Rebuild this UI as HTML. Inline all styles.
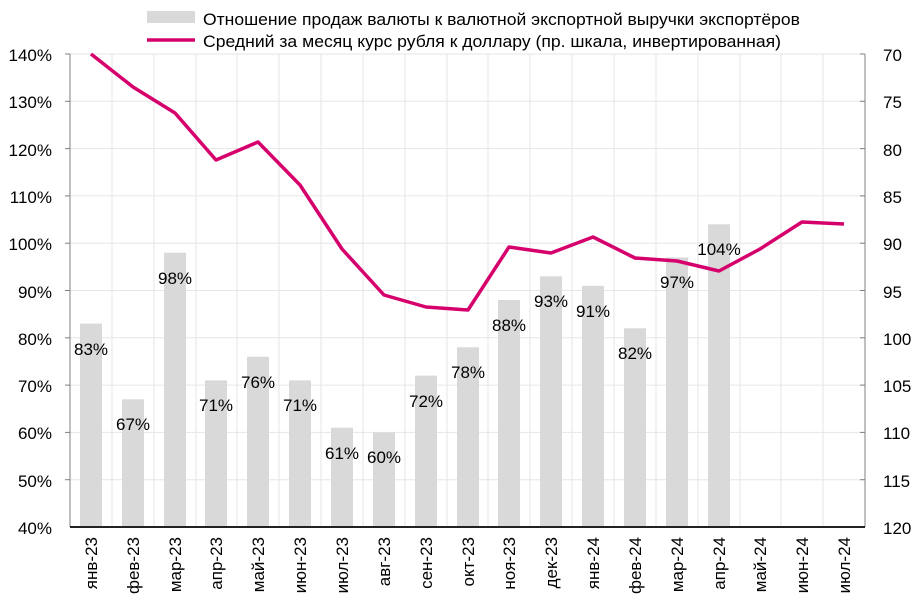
<!DOCTYPE html>
<html><head><meta charset="utf-8"><style>body{margin:0;background:#fff}svg{display:block}text{font-family:"Liberation Sans",sans-serif;fill:#000;font-size:17px}</style></head><body>
<svg width="922" height="609" xmlns="http://www.w3.org/2000/svg">
<g stroke="#e6e6e6">
<line x1="70" x2="865" y1="479.7" y2="479.7"/><line x1="70" x2="865" y1="432.4" y2="432.4"/><line x1="70" x2="865" y1="385.1" y2="385.1"/><line x1="70" x2="865" y1="337.8" y2="337.8"/><line x1="70" x2="865" y1="290.5" y2="290.5"/><line x1="70" x2="865" y1="243.2" y2="243.2"/><line x1="70" x2="865" y1="195.9" y2="195.9"/><line x1="70" x2="865" y1="148.6" y2="148.6"/><line x1="70" x2="865" y1="101.3" y2="101.3"/><line x1="70" x2="865" y1="54" y2="54"/>
<line x1="112" x2="112" y1="54" y2="527"/><line x1="154" x2="154" y1="54" y2="527"/><line x1="196" x2="196" y1="54" y2="527"/><line x1="237" x2="237" y1="54" y2="527"/><line x1="279" x2="279" y1="54" y2="527"/><line x1="321" x2="321" y1="54" y2="527"/><line x1="363" x2="363" y1="54" y2="527"/><line x1="405" x2="405" y1="54" y2="527"/><line x1="447" x2="447" y1="54" y2="527"/><line x1="488" x2="488" y1="54" y2="527"/><line x1="530" x2="530" y1="54" y2="527"/><line x1="572" x2="572" y1="54" y2="527"/><line x1="614" x2="614" y1="54" y2="527"/><line x1="656" x2="656" y1="54" y2="527"/><line x1="698" x2="698" y1="54" y2="527"/><line x1="740" x2="740" y1="54" y2="527"/><line x1="781" x2="781" y1="54" y2="527"/><line x1="823" x2="823" y1="54" y2="527"/>
</g>
<g fill="#d9d9d9">
<rect x="80" y="323.6" width="22" height="203.4"/><rect x="122" y="399.3" width="22" height="127.7"/><rect x="164" y="252.7" width="22" height="274.3"/><rect x="205" y="380.4" width="22" height="146.6"/><rect x="247" y="356.7" width="22" height="170.3"/><rect x="289" y="380.4" width="22" height="146.6"/><rect x="331" y="427.7" width="22" height="99.3"/><rect x="373" y="432.4" width="22" height="94.6"/><rect x="415" y="375.6" width="22" height="151.4"/><rect x="457" y="347.3" width="22" height="179.7"/><rect x="498" y="300" width="22" height="227"/><rect x="540" y="276.3" width="22" height="250.7"/><rect x="582" y="285.8" width="22" height="241.2"/><rect x="624" y="328.3" width="22" height="198.7"/><rect x="666" y="257.4" width="22" height="269.6"/><rect x="708" y="224.3" width="22" height="302.7"/>
</g>
<polyline points="91,54 133,87 175,113 216,160 258,142 300,185 342,249 384,295 426,307 468,310 509,247 551,253 593,237 635,258 677,261 719,271 760,249 802,222 844,224" fill="none" stroke="#d6006d" stroke-width="3.5" stroke-linejoin="round"/>
<g text-anchor="middle">
<text x="91" y="355">83%</text><text x="133" y="430">67%</text><text x="175" y="284">98%</text><text x="216" y="411">71%</text><text x="258" y="388">76%</text><text x="300" y="411">71%</text><text x="342" y="459">61%</text><text x="384" y="463">60%</text><text x="426" y="407">72%</text><text x="468" y="378">78%</text><text x="509" y="331">88%</text><text x="551" y="307">93%</text><text x="593" y="317">91%</text><text x="635" y="359">82%</text><text x="677" y="288">97%</text><text x="719" y="255">104%</text>
</g>
<g text-anchor="end">
<text transform="translate(97,537) rotate(-90)">янв-23</text><text transform="translate(139,537) rotate(-90)">фев-23</text><text transform="translate(181,537) rotate(-90)">мар-23</text><text transform="translate(222,537) rotate(-90)">апр-23</text><text transform="translate(264,537) rotate(-90)">май-23</text><text transform="translate(306,537) rotate(-90)">июн-23</text><text transform="translate(348,537) rotate(-90)">июл-23</text><text transform="translate(390,537) rotate(-90)">авг-23</text><text transform="translate(432,537) rotate(-90)">сен-23</text><text transform="translate(474,537) rotate(-90)">окт-23</text><text transform="translate(515,537) rotate(-90)">ноя-23</text><text transform="translate(557,537) rotate(-90)">дек-23</text><text transform="translate(599,537) rotate(-90)">янв-24</text><text transform="translate(641,537) rotate(-90)">фев-24</text><text transform="translate(683,537) rotate(-90)">мар-24</text><text transform="translate(725,537) rotate(-90)">апр-24</text><text transform="translate(766,537) rotate(-90)">май-24</text><text transform="translate(808,537) rotate(-90)">июн-24</text><text transform="translate(850,537) rotate(-90)">июл-24</text>
</g>
<g stroke="#808080">
<line x1="70" x2="70" y1="54" y2="527"/><line x1="865" x2="865" y1="54" y2="527"/>
<line x1="65" x2="70" y1="54" y2="54"/><line x1="65" x2="70" y1="101.3" y2="101.3"/><line x1="65" x2="70" y1="148.6" y2="148.6"/><line x1="65" x2="70" y1="195.9" y2="195.9"/><line x1="65" x2="70" y1="243.2" y2="243.2"/><line x1="65" x2="70" y1="290.5" y2="290.5"/><line x1="65" x2="70" y1="337.8" y2="337.8"/><line x1="65" x2="70" y1="385.1" y2="385.1"/><line x1="65" x2="70" y1="432.4" y2="432.4"/><line x1="65" x2="70" y1="479.7" y2="479.7"/>
<line x1="860" x2="865" y1="54" y2="54"/><line x1="860" x2="865" y1="101.3" y2="101.3"/><line x1="860" x2="865" y1="148.6" y2="148.6"/><line x1="860" x2="865" y1="195.9" y2="195.9"/><line x1="860" x2="865" y1="243.2" y2="243.2"/><line x1="860" x2="865" y1="290.5" y2="290.5"/><line x1="860" x2="865" y1="337.8" y2="337.8"/><line x1="860" x2="865" y1="385.1" y2="385.1"/><line x1="860" x2="865" y1="432.4" y2="432.4"/><line x1="860" x2="865" y1="479.7" y2="479.7"/>
</g>
<line x1="70" x2="865" y1="527" y2="527" stroke="#222" stroke-width="2"/>
<g text-anchor="end">
<text x="52" y="61">140%</text><text x="52" y="108">130%</text><text x="52" y="156">120%</text><text x="52" y="203">110%</text><text x="52" y="250">100%</text><text x="52" y="298">90%</text><text x="52" y="345">80%</text><text x="52" y="392">70%</text><text x="52" y="439">60%</text><text x="52" y="487">50%</text><text x="52" y="534">40%</text>
</g>
<g>
<text x="883" y="61">70</text><text x="883" y="108">75</text><text x="883" y="156">80</text><text x="883" y="203">85</text><text x="883" y="250">90</text><text x="883" y="298">95</text><text x="883" y="345">100</text><text x="883" y="392">105</text><text x="883" y="439">110</text><text x="883" y="487">115</text><text x="883" y="534">120</text>
</g>
<rect x="147" y="11" width="48" height="12" fill="#d9d9d9"/><text x="203" y="25" font-size="18" textLength="597" lengthAdjust="spacingAndGlyphs">Отношение продаж валюты к валютной экспортной выручки экспортёров</text>
<line x1="147" x2="195" y1="40" y2="40" stroke="#d6006d" stroke-width="3.5"/><text x="203" y="47" font-size="18" textLength="578" lengthAdjust="spacingAndGlyphs">Средний за месяц курс рубля к доллару (пр. шкала, инвертированная)</text>
</svg>
</body></html>
